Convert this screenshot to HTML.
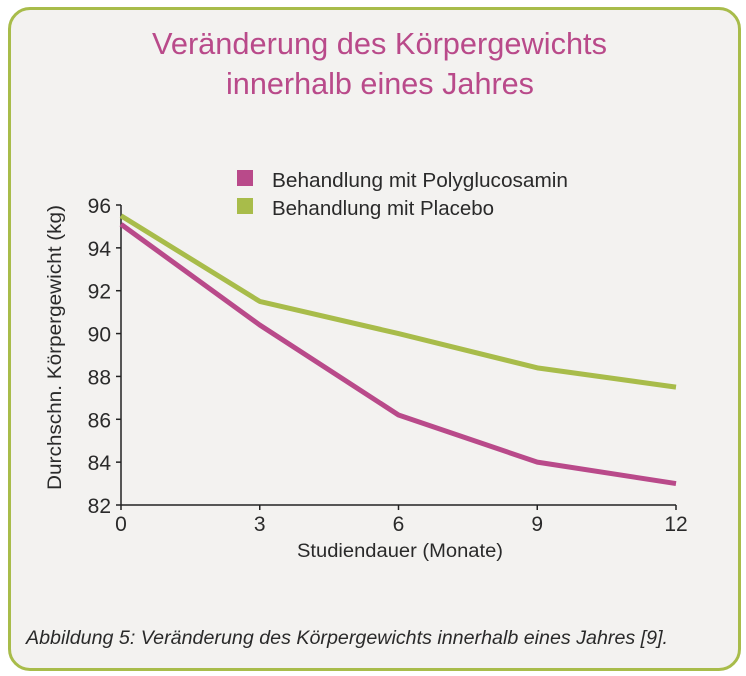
<!DOCTYPE html>
<html><head><meta charset="utf-8">
<style>
html,body{margin:0;padding:0;background:#fff;}
body{width:746px;height:676px;position:relative;overflow:hidden;font-family:"Liberation Sans",sans-serif;}
#frame{position:absolute;left:8px;top:7px;width:727px;height:658px;border:3px solid #a8bc4a;border-radius:22px;background:#f3f2f0;}
svg{position:absolute;left:0;top:0;}
</style></head>
<body>
<div id="frame"></div>
<svg width="746" height="676" id="chart">
<text x="152" y="54" textLength="455" lengthAdjust="spacingAndGlyphs" font-size="31" fill="#b94a8a">Veränderung des Körpergewichts</text>
<text x="226" y="94" textLength="308" lengthAdjust="spacingAndGlyphs" font-size="31" fill="#b94a8a">innerhalb eines Jahres</text>
<g>
<rect x="237" y="170" width="16" height="16" fill="#b94a8a"/>
<text x="272" y="187" textLength="296" lengthAdjust="spacingAndGlyphs" font-size="20" fill="#2a2a2a">Behandlung mit Polyglucosamin</text>
<rect x="237" y="198" width="16" height="16" fill="#a8bc4a"/>
<text x="272" y="215" textLength="222" lengthAdjust="spacingAndGlyphs" font-size="20" fill="#2a2a2a">Behandlung mit Placebo</text>
</g>
<g id="axes"></g>
<g id="series"></g>
<text transform="translate(61,490) rotate(-90)" textLength="285" lengthAdjust="spacingAndGlyphs" font-size="19" fill="#2a2a2a">Durchschn. Körpergewicht (kg)</text>
<text x="297" y="557" textLength="206" lengthAdjust="spacingAndGlyphs" font-size="19" fill="#2a2a2a">Studiendauer (Monate)</text>
<text x="26" y="644" textLength="642" lengthAdjust="spacingAndGlyphs" font-size="19" font-style="italic" fill="#2a2a2a">Abbildung 5: Veränderung des Körpergewichts innerhalb eines Jahres [9].</text>
</svg>
<script>
const months = [0, 3, 6, 9, 12];
const polyglucosamin = [95.1, 90.4, 86.2, 84.0, 83.0];
const placebo = [95.5, 91.5, 90.0, 88.4, 87.5];
const yTicks = [82, 84, 86, 88, 90, 92, 94, 96];
const xTicks = [0, 3, 6, 9, 12];

const NS = "http://www.w3.org/2000/svg";
const x0 = 121, x1 = 676, y0 = 505, y1 = 205;
function xs(v){ return x0 + (v - 0) / 12 * (x1 - x0); }
function ys(v){ return y0 - (v - 82) / 14 * (y0 - y1); }
function mk(tag, attrs, parent){ const e = document.createElementNS(NS, tag); for (const k in attrs) e.setAttribute(k, attrs[k]); parent.appendChild(e); return e; }

const axes = document.getElementById('axes');
const ya = mk('line', {x1:x0, y1:ys(96), x2:x0, y2:y0, stroke:'#222', 'stroke-width':1.5}, axes);


const xa = mk('line', {x1:x0, y1:y0, x2:x1, y2:y0, stroke:'#222', 'stroke-width':1.5}, axes);


yTicks.forEach(t => {
  const y = ys(t);
  mk('line', {x1:x0-5, y1:y, x2:x0, y2:y, stroke:'#222', 'stroke-width':1.5}, axes);
  const tx = mk('text', {x:x0-10, y:y+8, 'text-anchor':'end', 'font-size':21, fill:'#2a2a2a'}, axes);
  tx.textContent = t;
  
  
});
xTicks.forEach(t => {
  const x = xs(t);
  mk('line', {x1:x, y1:y0, x2:x, y2:y0+5, stroke:'#222', 'stroke-width':1.5}, axes);
  const tx = mk('text', {x:x, y:y0+26, 'text-anchor':'middle', 'font-size':21, fill:'#2a2a2a'}, axes);
  tx.textContent = t;
  
  
});

const series = document.getElementById('series');
function drawLine(vals, color, name){
  const pts = vals.map((v, i) => xs(months[i]) + ',' + ys(v)).join(' ');
  const pl = mk('polyline', {points:pts, fill:'none', stroke:color, 'stroke-width':5, 'stroke-linejoin':'round'}, series);
  
  
}
drawLine(placebo, '#a8bc4a', 'line-placebo');
drawLine(polyglucosamin, '#b94a8a', 'line-polyglucosamin');
</script>
</body></html>
